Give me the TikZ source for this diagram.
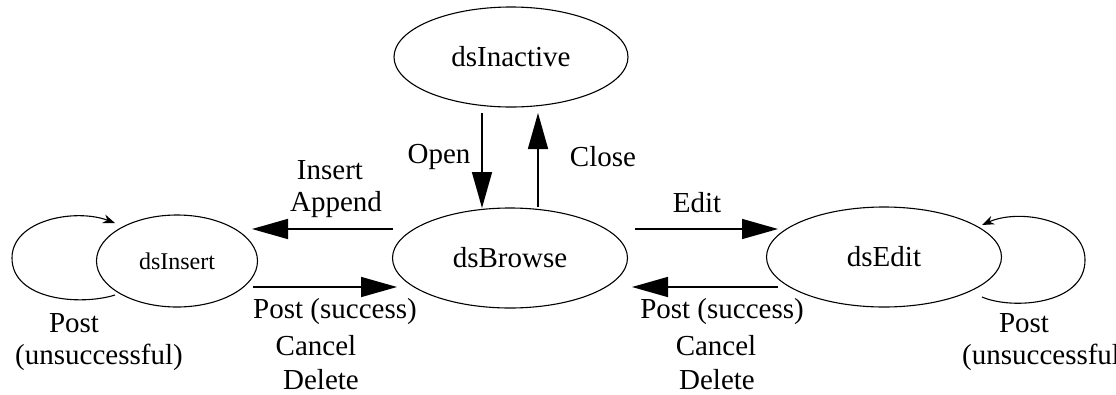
\documentclass[tikz,border=0pt]{standalone}
\usepackage{fontspec}
\setmainfont{Liberation Serif}
\usetikzlibrary{arrows.meta,calc,shapes.geometric}
\begin{document}
\begin{tikzpicture}[x=1pt,y=-1pt,
  state/.style={draw,ellipse,line width=1.1pt,inner sep=0pt,font=\fontsize{29}{34}\selectfont},
  lbl/.style={inner sep=0pt,font=\fontsize{29}{34}\selectfont},
  tr/.style={line width=1.6pt,-{Triangle[length=36pt,width=20pt]}},
  loop/.style={line width=1.1pt,-{Stealth[length=12pt,width=9pt]}}]
\useasboundingbox (0,0) rectangle (1116,394);
\node[state,minimum width=234pt,minimum height=100pt] (inactive) at (511,57) {dsInactive};
\node[state,minimum width=235pt,minimum height=100pt] (browse) at (510,258) {dsBrowse};
\node[state,minimum width=161pt,minimum height=92pt,font=\fontsize{24}{28}\selectfont] (insert) at (177,261) {dsInsert};
\node[state,minimum width=235pt,minimum height=100pt] (edit) at (884,257) {dsEdit};
% vertical arrows
\draw[tr] ($(inactive.center)+(-29,56)$) -- ($(browse.center)+(-28,-50)$);
\draw[tr] ($(browse.center)+(28,-51)$) -- ($(inactive.center)+(27,56)$);
% insert / append
\draw[tr] ($(browse.center)+(-117,-29)$) -- ($(insert.center)+(75,-32)$);
\draw[tr] ($(insert.center)+(76,26)$) -- ($(browse.center)+(-113,29)$);
% edit
\draw[tr] ($(browse.center)+(125,-29)$) -- ($(edit.center)+(-106,-28)$);
\draw[tr] ($(edit.center)+(-106,30)$) -- ($(browse.center)+(122,29)$);
% self loops
\draw[loop] ($(insert.center)+(-62,34)$) .. controls (80,306) and (12,300) .. (12,258)
   .. controls (12,220) and (75,208) .. ($(insert.center)+(-62,-38)$);
\draw[loop] ($(edit.center)+(98,40)$) .. controls (1012,310) and (1085,305) .. (1085,260)
   .. controls (1085,220) and (1020,208) .. ($(edit.center)+(98,-32)$);
% labels
\node[lbl] (lopen) at (439,157) {Open};
\node[lbl] (lclose) at (603,157) {Close};
\node[lbl] (lins) at (330,170) {Insert};
\node[lbl] (lapp) at (336,205) {Append};
\node[lbl] (lps1) at (335,312) {Post (success)};
\node[lbl] (lc1) at (316,346) {Cancel};
\node[lbl] (ld1) at (321,380) {Delete};
\node[lbl] (ledit) at (697,203) {Edit};
\node[lbl] (lps2) at (722,312) {Post (success)};
\node[lbl] (lc2) at (716,346) {Cancel};
\node[lbl] (ld2) at (717,380) {Delete};
\node[lbl] (lpu1) at (74,323) {Post};
\node[lbl] (lun1) at (99,357) {(unsuccessful)};
\node[lbl] (lpu2) at (1024,323) {Post};
\node[lbl,anchor=west] (lun2) at (962,357) {(unsuccessful)};
\end{tikzpicture}
\end{document}
